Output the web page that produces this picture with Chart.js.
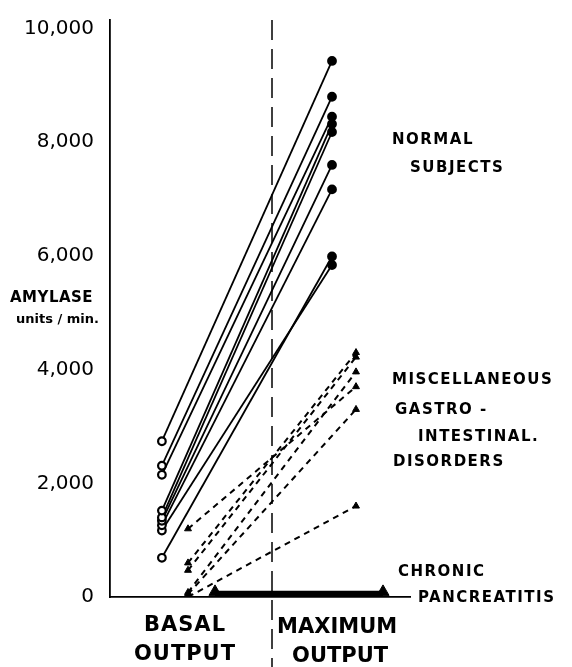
<!DOCTYPE html>
<html>
<head>
<meta charset="utf-8">
<script src="https://cdn.jsdelivr.net/npm/chart.js@4/dist/chart.umd.min.js"></script>
<style>
  html, body { margin: 0; padding: 0; background: #fff; }
  #wrap { width: 572px; height: 667px; }
</style>
</head>
<body>
<div id="wrap"><canvas id="myChart"></canvas></div>
<script>
// 各群の横位置(x軸は0〜10の相対位置)
const normalX = [1.73, 7.4];
const miscX = [2.6, 8.2];
const chronicX = [3.5, 9.1];
const dividerX = 5.4;

// 正常者: 基礎分泌 → 最大分泌
const normalBasal = [2740, 2310, 2150, 1520, 1400, 1340, 1260, 1170, 690];
const normalMax   = [9430, 8800, 8450, 8320, 8180, 7600, 7170, 5840, 5990];

// その他の消化器疾患
const miscBasal = [1200, 600, 470, 80, 50, 0];
const miscMax   = [3700, 4300, 4220, 3960, 3300, 1600];

// 慢性膵炎
const chronicBasal = [90, 60, 40, 20];
const chronicMax   = [90, 60, 40, 20];

const yTicks = [0, 2000, 4000, 6000, 8000, 10000];

const groupLabels = [
  { text: 'NORMAL', x: 392, y: 140 },
  { text: 'SUBJECTS', x: 410, y: 168 },
  { text: 'MISCELLANEOUS', x: 392, y: 380 },
  { text: 'GASTRO -', x: 395, y: 410 },
  { text: 'INTESTINAL.', x: 418, y: 437 },
  { text: 'DISORDERS', x: 393, y: 462 },
  { text: 'CHRONIC', x: 398, y: 572 },
  { text: 'PANCREATITIS', x: 418, y: 598 }
];

const datasets = [];

normalBasal.forEach((v, i) => {
  datasets.push({
    data: [{ x: normalX[0], y: v }, { x: normalX[1], y: normalMax[i] }],
    showLine: true,
    borderColor: '#000',
    borderWidth: 1.8,
    pointStyle: 'circle',
    pointRadius: 3.8,
    pointBorderWidth: 2.2,
    pointBorderColor: '#000',
    pointBackgroundColor: ['#fff', '#000']
  });
});

miscBasal.forEach((v, i) => {
  datasets.push({
    data: [{ x: miscX[0], y: v }, { x: miscX[1], y: miscMax[i] }],
    showLine: true,
    borderColor: '#000',
    borderWidth: 2,
    borderDash: [6, 5],
    pointStyle: 'triangle',
    pointRadius: 4,
    pointBorderWidth: 1,
    pointBorderColor: '#000',
    pointBackgroundColor: '#000'
  });
});

chronicBasal.forEach((v, i) => {
  datasets.push({
    data: [{ x: chronicX[0], y: v }, { x: chronicX[1], y: chronicMax[i] }],
    showLine: true,
    borderColor: '#000',
    borderWidth: 2.5,
    pointStyle: 'triangle',
    pointRadius: i === 0 ? 7 : 0,
    pointBorderWidth: 1,
    pointBorderColor: '#000',
    pointBackgroundColor: '#000'
  });
});

// 区切りの破線と文字はプラグインで描く
const extras = {
  id: 'extras',
  afterDatasetsDraw(chart) {
    const c = chart.ctx;
    const xs = chart.scales.x;
    const area = chart.chartArea;
    const px = xs.getPixelForValue(dividerX);

    c.save();
    c.strokeStyle = '#000';
    c.lineWidth = 1.5;
    c.setLineDash([20, 9]);
    c.beginPath();
    c.moveTo(px, area.top);
    c.lineTo(px, chart.height);
    c.stroke();
    c.setLineDash([]);

    c.fillStyle = '#000';
    c.textBaseline = 'middle';
    c.textAlign = 'left';
    c.font = 'bold 15px "DejaVu Sans"';
    c.letterSpacing = '1.5px';
    groupLabels.forEach(l => c.fillText(l.text, l.x, l.y));

    c.font = 'bold 15px "DejaVu Sans"';
    c.letterSpacing = '0.5px';
    c.fillText('AMYLASE', 10, 298);
    c.font = 'bold 13px "DejaVu Sans"';
    c.letterSpacing = '0px';
    c.fillText('units / min.', 16, 320);

    c.font = 'bold 21px "DejaVu Sans"';
    c.letterSpacing = '1px';
    c.textAlign = 'center';
    c.fillText('BASAL', xs.getPixelForValue(2.5), 626);
    c.fillText('OUTPUT', xs.getPixelForValue(2.5), 655);
    c.letterSpacing = '0px';
    c.fillText('MAXIMUM', xs.getPixelForValue(7.57), 628);
    c.fillText('OUTPUT', xs.getPixelForValue(7.67), 657);
    c.restore();
  }
};

const ctx = document.getElementById('myChart').getContext('2d');

new Chart(ctx, {
  type: 'scatter',
  data: { datasets: datasets },
  options: {
    responsive: true,
    maintainAspectRatio: false,
    animation: false,
    layout: {
      padding: { top: 8, right: 162, left: 0, bottom: 0 }
    },
    scales: {
      x: {
        type: 'linear',
        min: 0,
        max: 10,
        grid: { display: false },
        ticks: { display: false },
        border: { display: true, color: '#000', width: 1.8 },
        afterFit(scale) { scale.height = 70; }
      },
      y: {
        type: 'linear',
        min: 0,
        max: 10150,
        grid: { display: false },
        border: { display: true, color: '#000', width: 1.8 },
        afterBuildTicks(scale) {
          scale.ticks = yTicks.map(v => ({ value: v }));
        },
        afterFit(scale) { scale.width = 110; },
        ticks: {
          color: '#000',
          padding: 8,
          font: { family: 'DejaVu Sans', size: 20 },
          callback: v => v.toLocaleString('en-US')
        }
      }
    },
    plugins: {
      legend: { display: false },
      tooltip: { enabled: false }
    }
  },
  plugins: [extras]
});
</script>
</body>
</html>
